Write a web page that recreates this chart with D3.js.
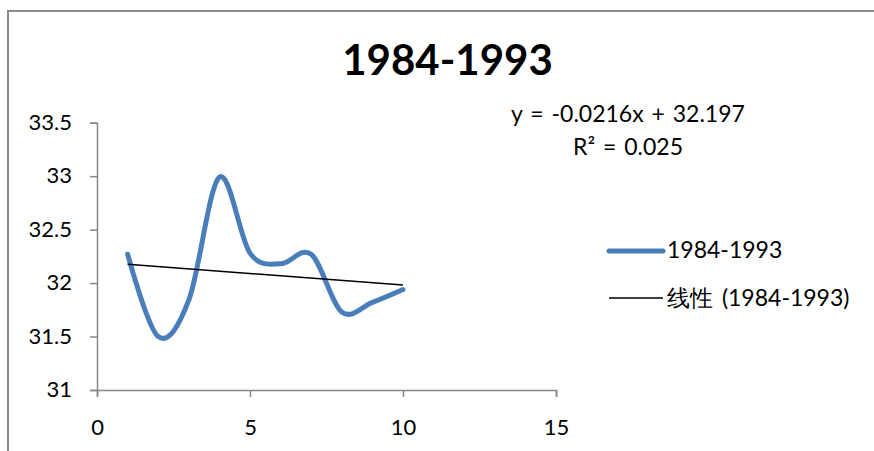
<!DOCTYPE html>
<html>
<head>
<meta charset="utf-8">
<script src="https://cdn.jsdelivr.net/npm/d3@7"></script>
<style>
  html, body { margin: 0; padding: 0; background: #fff; }
  svg { display: block; }
  text { font-family: Lato, "Open Sans", sans-serif; fill: #000; }
</style>
</head>
<body>
<svg id="chart" width="874" height="451"></svg>
<script>
// ---- data ----
const xValues = [1, 2, 3, 4, 5, 6, 7, 8, 9, 10];
const yValues = [32.27, 31.50, 31.84, 32.99, 32.28, 32.18, 32.27, 31.73, 31.82, 31.94];
const xTicks = [0, 5, 10, 15];
const yTicks = [31, 31.5, 32, 32.5, 33, 33.5];
const trendCoef = [-0.0216, 32.197]; // slope, intercept
const titleText = "1984-1993";
const seriesName = "1984-1993";
const trendName = "线性 (1984-1993)";
const equationText = "y = -0.0216x + 32.197";
const r2Text = "R² = 0.025";

const svg = d3.select("#chart");
const W = 874, H = 451;

svg.append("rect").attr("width", W).attr("height", H).attr("fill", "#fff");

// outer chart border (partially visible)
svg.append("path")
  .attr("d", `M8,${H} V11 H${W}`)
  .attr("fill", "none")
  .attr("stroke", "#8a8a8a")
  .attr("stroke-width", 2);

const x = d3.scaleLinear().domain([0, 15]).range([97, 556]);
const y = d3.scaleLinear().domain([31, 33.5]).range([390, 122.7]);

const axisColor = "#868686";

// y axis
const gy = svg.append("g")
  .attr("transform", `translate(${x(0)},0)`)
  .call(d3.axisLeft(y).tickValues(yTicks).tickSize(7).tickPadding(18)
        .tickFormat(d => d3.format("")(d)));
gy.select(".domain").attr("stroke", axisColor).attr("stroke-width", 1.5);
gy.selectAll(".tick line").attr("stroke", axisColor).attr("stroke-width", 1.5);
gy.selectAll(".tick text").attr("font-size", 22).attr("font-family", "Lato").attr("fill", "#000")
  .attr("dy", "0.3em");

// x axis
const gx = svg.append("g")
  .attr("transform", `translate(0,${y(31)})`)
  .call(d3.axisBottom(x).tickValues(xTicks).tickSize(7).tickPadding(22));
gx.select(".domain").attr("stroke", axisColor).attr("stroke-width", 1.5);
gx.selectAll(".tick line").attr("stroke", axisColor).attr("stroke-width", 1.5);
gx.selectAll(".tick text").attr("font-size", 22).attr("font-family", "Lato").attr("fill", "#000")
  .attr("dy", "0.71em");

// series line (smoothed)
const data = xValues.map((v, i) => ({ x: v, y: yValues[i] }));
const line = d3.line().x(d => x(d.x)).y(d => y(d.y)).curve(d3.curveCatmullRom.alpha(0));
svg.append("path")
  .datum(data)
  .attr("d", line)
  .attr("fill", "none")
  .attr("stroke", "#4a7ebb")
  .attr("stroke-width", 5)
  .attr("stroke-linecap", "round")
  .attr("stroke-linejoin", "round");

// trendline
const x0 = d3.min(xValues), x1 = d3.max(xValues);
const trend = [x0, x1].map(v => ({ x: v, y: trendCoef[0] * v + trendCoef[1] }));
svg.append("path")
  .datum(trend)
  .attr("d", d3.line().x(d => x(d.x)).y(d => y(d.y)))
  .attr("fill", "none")
  .attr("stroke", "#000")
  .attr("stroke-width", 1.5);

// title
svg.append("text")
  .attr("x", 447.5).attr("y", 75)
  .attr("text-anchor", "middle")
  .attr("font-size", 42).attr("font-weight", "bold")
  .text(titleText);

// equation
svg.append("text")
  .attr("x", 628).attr("y", 122)
  .attr("text-anchor", "middle")
  .attr("font-size", 23).attr("word-spacing", 2)
  .text(equationText);
svg.append("text")
  .attr("x", 628).attr("y", 155)
  .attr("text-anchor", "middle")
  .attr("font-size", 23).attr("word-spacing", 2)
  .text(r2Text);

// legend
const lg = svg.append("g");
lg.append("line").attr("x1", 609).attr("x2", 663).attr("y1", 251).attr("y2", 251)
  .attr("stroke", "#4a7ebb").attr("stroke-width", 5).attr("stroke-linecap", "round");
lg.append("text").attr("x", 667).attr("y", 258).attr("font-size", 23).text(seriesName);
lg.append("line").attr("x1", 609).attr("x2", 663).attr("y1", 298).attr("y2", 298)
  .attr("stroke", "#000").attr("stroke-width", 1.5);
lg.append("text").attr("x", 667).attr("y", 306).attr("font-size", 23).attr("word-spacing", 3)
  .attr("font-family", "Lato, 'Noto Sans CJK SC', sans-serif").text(trendName);
</script>
</body>
</html>
